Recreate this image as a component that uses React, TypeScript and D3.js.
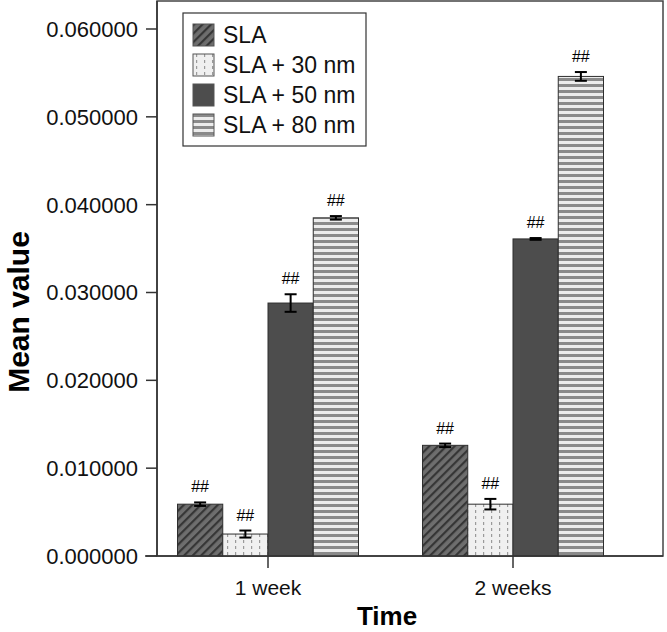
import React from "react";
import * as d3 from "d3";

const categories = ["1 week", "2 weeks"];
const seriesNames = ["SLA", "SLA + 30 nm", "SLA + 50 nm", "SLA + 80 nm"];
const slaValues = [0.0059, 0.0126];
const sla30Values = [0.0025, 0.0059];
const sla50Values = [0.0288, 0.0361];
const sla80Values = [0.0385, 0.0546];
const slaErr = [0.0002, 0.0002];
const sla30Err = [0.0004, 0.0006];
const sla50Err = [0.001, 0.0001];
const sla80Err = [0.0002, 0.0005];
const yTicks = [0, 0.01, 0.02, 0.03, 0.04, 0.05, 0.06];
const sigLabel = "##";

const seriesValues = [slaValues, sla30Values, sla50Values, sla80Values];
const seriesErrs = [slaErr, sla30Err, sla50Err, sla80Err];
const fills = ["url(#pHatch)", "url(#pDots)", "#4d4d4d", "url(#pStripes)"];

const W = 667;
const H = 632;
const left = 157;
const right = 663;
const top = 1;
const bottom = 556;
const FONT = "'Liberation Sans', Arial, Helvetica, sans-serif";

export default function App() {
  const x = d3.scalePoint<string>().domain(categories).range([268, 513]);
  const xs = d3.scaleBand<string>().domain(seriesNames).range([-90.5, 90.5]).padding(0);
  const y = d3.scaleLinear().domain([0, 0.06]).range([bottom, 29]);
  const fmt = d3.format(".6f");
  const bw = xs.bandwidth();

  return (
    <svg width={W} height={H} style={{ position: "absolute", left: 0, top: 0, background: "#fff" }}>
      <defs>
        <pattern id="pHatch" patternUnits="userSpaceOnUse" width="6" height="6" patternTransform="rotate(45)">
          <rect width="6" height="6" fill="#6e6e6e" />
          <rect x="0" y="0" width="2.2" height="6" fill="#363636" />
        </pattern>
        <pattern id="pDots" patternUnits="userSpaceOnUse" width="8" height="6">
          <rect width="8" height="6" fill="#f0f0f0" />
          <rect x="3" y="0" width="1.2" height="3" fill="#9a9a9a" />
        </pattern>
        <pattern id="pStripes" patternUnits="userSpaceOnUse" width="6" height="6">
          <rect width="6" height="6" fill="#ececec" />
          <rect x="0" y="0" width="6" height="3" fill="#8a8a8a" />
        </pattern>
      </defs>

      {/* frame */}
      <rect x={left} y={top} width={right - left} height={bottom - top} fill="none" stroke="#444" strokeWidth={1.5} />

      {/* bars */}
      {seriesNames.map((s, si) =>
        categories.map((c, ci) => {
          const v = seriesValues[si][ci];
          const e = seriesErrs[si][ci];
          const bx = (x(c) as number) + (xs(s) as number);
          const cx = bx + bw / 2;
          const yTop = y(v);
          const eTop = y(v + e);
          const eBot = y(v - e);
          return (
            <g key={s + c}>
              <rect x={bx} y={yTop} width={bw} height={bottom - yTop} fill={fills[si]} stroke="#2e2e2e" strokeWidth={1} />
              <line x1={cx} x2={cx} y1={eTop} y2={eBot} stroke="#000" strokeWidth={2} />
              <line x1={cx - 6} x2={cx + 6} y1={eTop} y2={eTop} stroke="#000" strokeWidth={2} />
              <line x1={cx - 6} x2={cx + 6} y1={eBot} y2={eBot} stroke="#000" strokeWidth={2} />
              <text x={cx} y={eTop - 10} textAnchor="middle" fontFamily={FONT} fontSize={16} fill="#000">
                {sigLabel}
              </text>
            </g>
          );
        })
      )}

      {/* axes lines */}
      <line x1={left} x2={left} y1={top} y2={bottom} stroke="#333" strokeWidth={1.5} />
      <line x1={left - 12} x2={right} y1={bottom} y2={bottom} stroke="#333" strokeWidth={1.5} />

      {/* y ticks */}
      {yTicks.map((t) => (
        <g key={t}>
          <line x1={left - 11} x2={left} y1={y(t)} y2={y(t)} stroke="#333" strokeWidth={1.5} />
          <text x={left - 19} y={y(t)} dy="0.36em" textAnchor="end" fontFamily={FONT} fontSize={22} fill="#111">
            {fmt(t)}
          </text>
        </g>
      ))}

      {/* x ticks */}
      {categories.map((c) => (
        <g key={c}>
          <line x1={x(c)} x2={x(c)} y1={bottom} y2={bottom + 12} stroke="#333" strokeWidth={1.5} />
          <text x={x(c)} y={595} textAnchor="middle" fontFamily={FONT} fontSize={21} fill="#111">
            {c}
          </text>
        </g>
      ))}

      {/* axis titles */}
      <text x={387} y={625} textAnchor="middle" fontFamily={FONT} fontWeight="bold" fontSize={26} fill="#000">
        Time
      </text>
      <text transform={`translate(29, 312) rotate(-90)`} textAnchor="middle" fontFamily={FONT} fontWeight="bold" fontSize={30} fill="#000">
        Mean value
      </text>

      {/* legend */}
      <rect x={183} y={13} width={183} height={133} fill="#fff" stroke="#333" strokeWidth={1.2} />
      {seriesNames.map((s, i) => (
        <g key={s} transform={`translate(193, ${24 + i * 30})`}>
          <rect x={0} y={0} width={21} height={22} fill={fills[i]} stroke="#555" strokeWidth={1} />
          <text x={30} y={11} dy="0.36em" fontFamily={FONT} fontSize={23} fill="#111">
            {s}
          </text>
        </g>
      ))}
    </svg>
  );
}
